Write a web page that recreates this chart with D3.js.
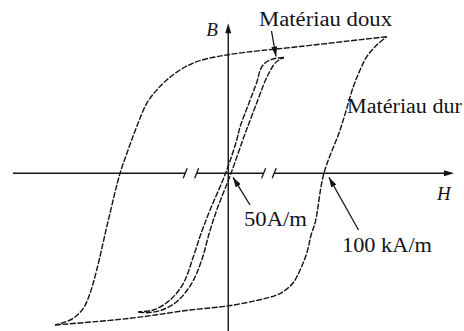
<!DOCTYPE html>
<html>
<head>
<meta charset="utf-8">
<script src="https://cdn.jsdelivr.net/npm/d3@7"></script>
<style>
  html, body { margin: 0; padding: 0; background: #fff; }
  svg { display: block; }
</style>
</head>
<body>
<svg id="chart" width="464" height="331"></svg>
<script>
// Hysteresis loops, B (T) against H (schematic kA/m, broken axis)

// Hard material: descending branch (from +saturation to -saturation)
const hardDownH = [165.7, 75.1, 0, -32.9, -50.4, -64.3, -74.7, -85.2, -95.7, -104.7, -113.1, -125.3, -137.5, -144.5, -151.5, -162.0, -172.5, -181.0];
const hardDownB = [1.366, 1.268, 1.186, 1.116, 1.033, 0.933, 0.833, 0.700, 0.466, 0.233, 0, -0.467, -0.967, -1.200, -1.350, -1.450, -1.494, -1.517];
// Hard material: ascending branch (from -saturation to +saturation)
const hardUpH = [-181.0, -102.6, -39.9, -0.9, 31.9, 50.7, 58.0, 67.7, 75.1, 82.1, 86.6, 91.1, 100, 116.9, 130.8, 137.8, 144.8, 155.2, 165.7];
const hardUpB = [-1.517, -1.450, -1.367, -1.327, -1.267, -1.217, -1.180, -1.097, -0.967, -0.797, -0.617, -0.484, 0, 0.433, 0.866, 1.033, 1.166, 1.283, 1.366];

// Soft material: descending branch
const softDownH = [58.3, 48.9, 41.6, 36.4, 32.7, 30.6, 20.2, 12.3, 8.9, -2.8, -19.0, -27.9, -36.5, -46.9, -60.8, -78.3, -94.0];
const softDownB = [1.158, 1.148, 1.123, 1.083, 1.013, 0.933, 0.666, 0.463, 0.333, 0, -0.367, -0.587, -0.834, -1.100, -1.267, -1.367, -1.384];
// Soft material: ascending branch
const softUpH = [-94.0, -84.9, -69.5, -53.8, -38.2, -27.7, -19.5, -12.0, 2.9, 15.2, 20.2, 29.6, 39.0, 43.2, 47.4, 52.1, 58.3];
const softUpB = [-1.387, -1.394, -1.367, -1.284, -1.100, -0.867, -0.587, -0.367, 0, 0.333, 0.463, 0.700, 0.933, 1.013, 1.083, 1.128, 1.158];

// Axis extents and breaks along H
const hDomain = [-225, 236];
const bDomain = [-1.6, 1.5];
const hBreaks = [[-45, -33], [37, 48]];

// Annotated values
const hardCoercive = 100;           // kA/m
const softCoercive = 2.9;           // position of the soft loop crossing on the broken axis
const labels = {
  soft: "Matériau doux",
  hard: "Matériau dur",
  softHc: "50A/m",
  hardHc: "100 kA/m",
  xAxis: "H",
  yAxis: "B"
};

const svg = d3.select("#chart");
const x = d3.scaleLinear().domain(hDomain).range([13, 454]);
const y = d3.scaleLinear().domain(bDomain).range([333.3, 23.3]);

const ink = "#141414";
const serif = "'Liberation Serif', 'DejaVu Serif', serif";

// Arrowhead marker for annotation pointers
svg.append("defs").append("marker")
  .attr("id", "head")
  .attr("viewBox", "0 0 10 6")
  .attr("refX", 10).attr("refY", 3)
  .attr("markerWidth", 10).attr("markerHeight", 6)
  .attr("markerUnits", "userSpaceOnUse")
  .attr("orient", "auto")
  .append("path").attr("d", "M0,0 L10,3 L0,6 Z").attr("fill", ink);

// H axis, interrupted at the breaks
const x0 = x(0), y0 = y(0);
const segs = [];
let start = hDomain[0];
hBreaks.forEach(b => { segs.push([start, b[0]]); start = b[1]; });
segs.push([start, hDomain[1] - 2.5]);
svg.selectAll("line.haxis").data(segs).join("line")
  .attr("class", "haxis")
  .attr("x1", d => x(d[0])).attr("x2", d => x(d[1]))
  .attr("y1", y0).attr("y2", y0)
  .attr("stroke", ink).attr("stroke-width", 1.4);

// break slashes
const slashes = hBreaks.flat();
svg.selectAll("line.brk").data(slashes).join("line")
  .attr("class", "brk")
  .attr("x1", d => x(d) - 2).attr("y1", y0 + 5)
  .attr("x2", d => x(d) + 2).attr("y2", y0 - 5)
  .attr("stroke", ink).attr("stroke-width", 1.3);

// H arrowhead
const hx = x(hDomain[1]);
svg.append("path")
  .attr("d", `M${hx},${y0} L${hx - 10},${y0 - 3} L${hx - 10},${y0 + 3} Z`)
  .attr("fill", ink);

// B axis
const byTop = y(bDomain[1]);
svg.append("line")
  .attr("x1", x0).attr("x2", x0)
  .attr("y1", y(bDomain[0])).attr("y2", byTop + 6)
  .attr("stroke", ink).attr("stroke-width", 1.4);
svg.append("path")
  .attr("d", `M${x0},${byTop} L${x0 - 3},${byTop + 10} L${x0 + 3},${byTop + 10} Z`)
  .attr("fill", ink);

// Loop branches
const line = d3.line()
  .x(d => x(d[0])).y(d => y(d[1]))
  .curve(d3.curveCatmullRom.alpha(0.5));

const branches = [
  d3.zip(hardDownH, hardDownB),
  d3.zip(hardUpH, hardUpB),
  d3.zip(softDownH, softDownB),
  d3.zip(softUpH, softUpB)
];
svg.selectAll("path.branch").data(branches).join("path")
  .attr("class", "branch")
  .attr("d", line)
  .attr("fill", "none")
  .attr("stroke", ink)
  .attr("stroke-width", 1.4)
  .attr("stroke-dasharray", "6,1.5");

// Axis letters
svg.append("text").attr("x", x0 - 22).attr("y", byTop + 13)
  .attr("font-family", serif).attr("font-style", "italic").attr("font-size", 19)
  .attr("fill", ink).text(labels.yAxis);
svg.append("text").attr("x", hx - 17).attr("y", y0 + 27)
  .attr("font-family", serif).attr("font-style", "italic").attr("font-size", 19)
  .attr("fill", ink).text(labels.xAxis);

// Curve labels
function label(tx, ty, w, s) {
  svg.append("text").attr("x", tx).attr("y", ty)
    .attr("font-family", serif).attr("font-size", 20.5)
    .attr("textLength", w).attr("lengthAdjust", "spacingAndGlyphs")
    .attr("fill", ink).text(s);
}
label(259, 26, 133, labels.soft);
label(347, 113, 115, labels.hard);
label(244, 226, 63, labels.softHc);
label(342, 252, 90, labels.hardHc);

// Pointers
const softTip = [softDownH[0], softDownB[0]];
const pointers = [
  { from: [271.5, 31], to: [x(softTip[0]) - 8, y(softTip[1]) - 1] },
  { from: [250, 205], to: [x(softCoercive) + 2, y0 + 4] },
  { from: [358.5, 230], to: [x(hardCoercive) + 5, y0 + 4] }
];
svg.selectAll("line.ptr").data(pointers).join("line")
  .attr("class", "ptr")
  .attr("x1", d => d.from[0]).attr("y1", d => d.from[1])
  .attr("x2", d => d.to[0]).attr("y2", d => d.to[1])
  .attr("stroke", ink).attr("stroke-width", 1.3)
  .attr("marker-end", "url(#head)");
</script>
</body>
</html>
